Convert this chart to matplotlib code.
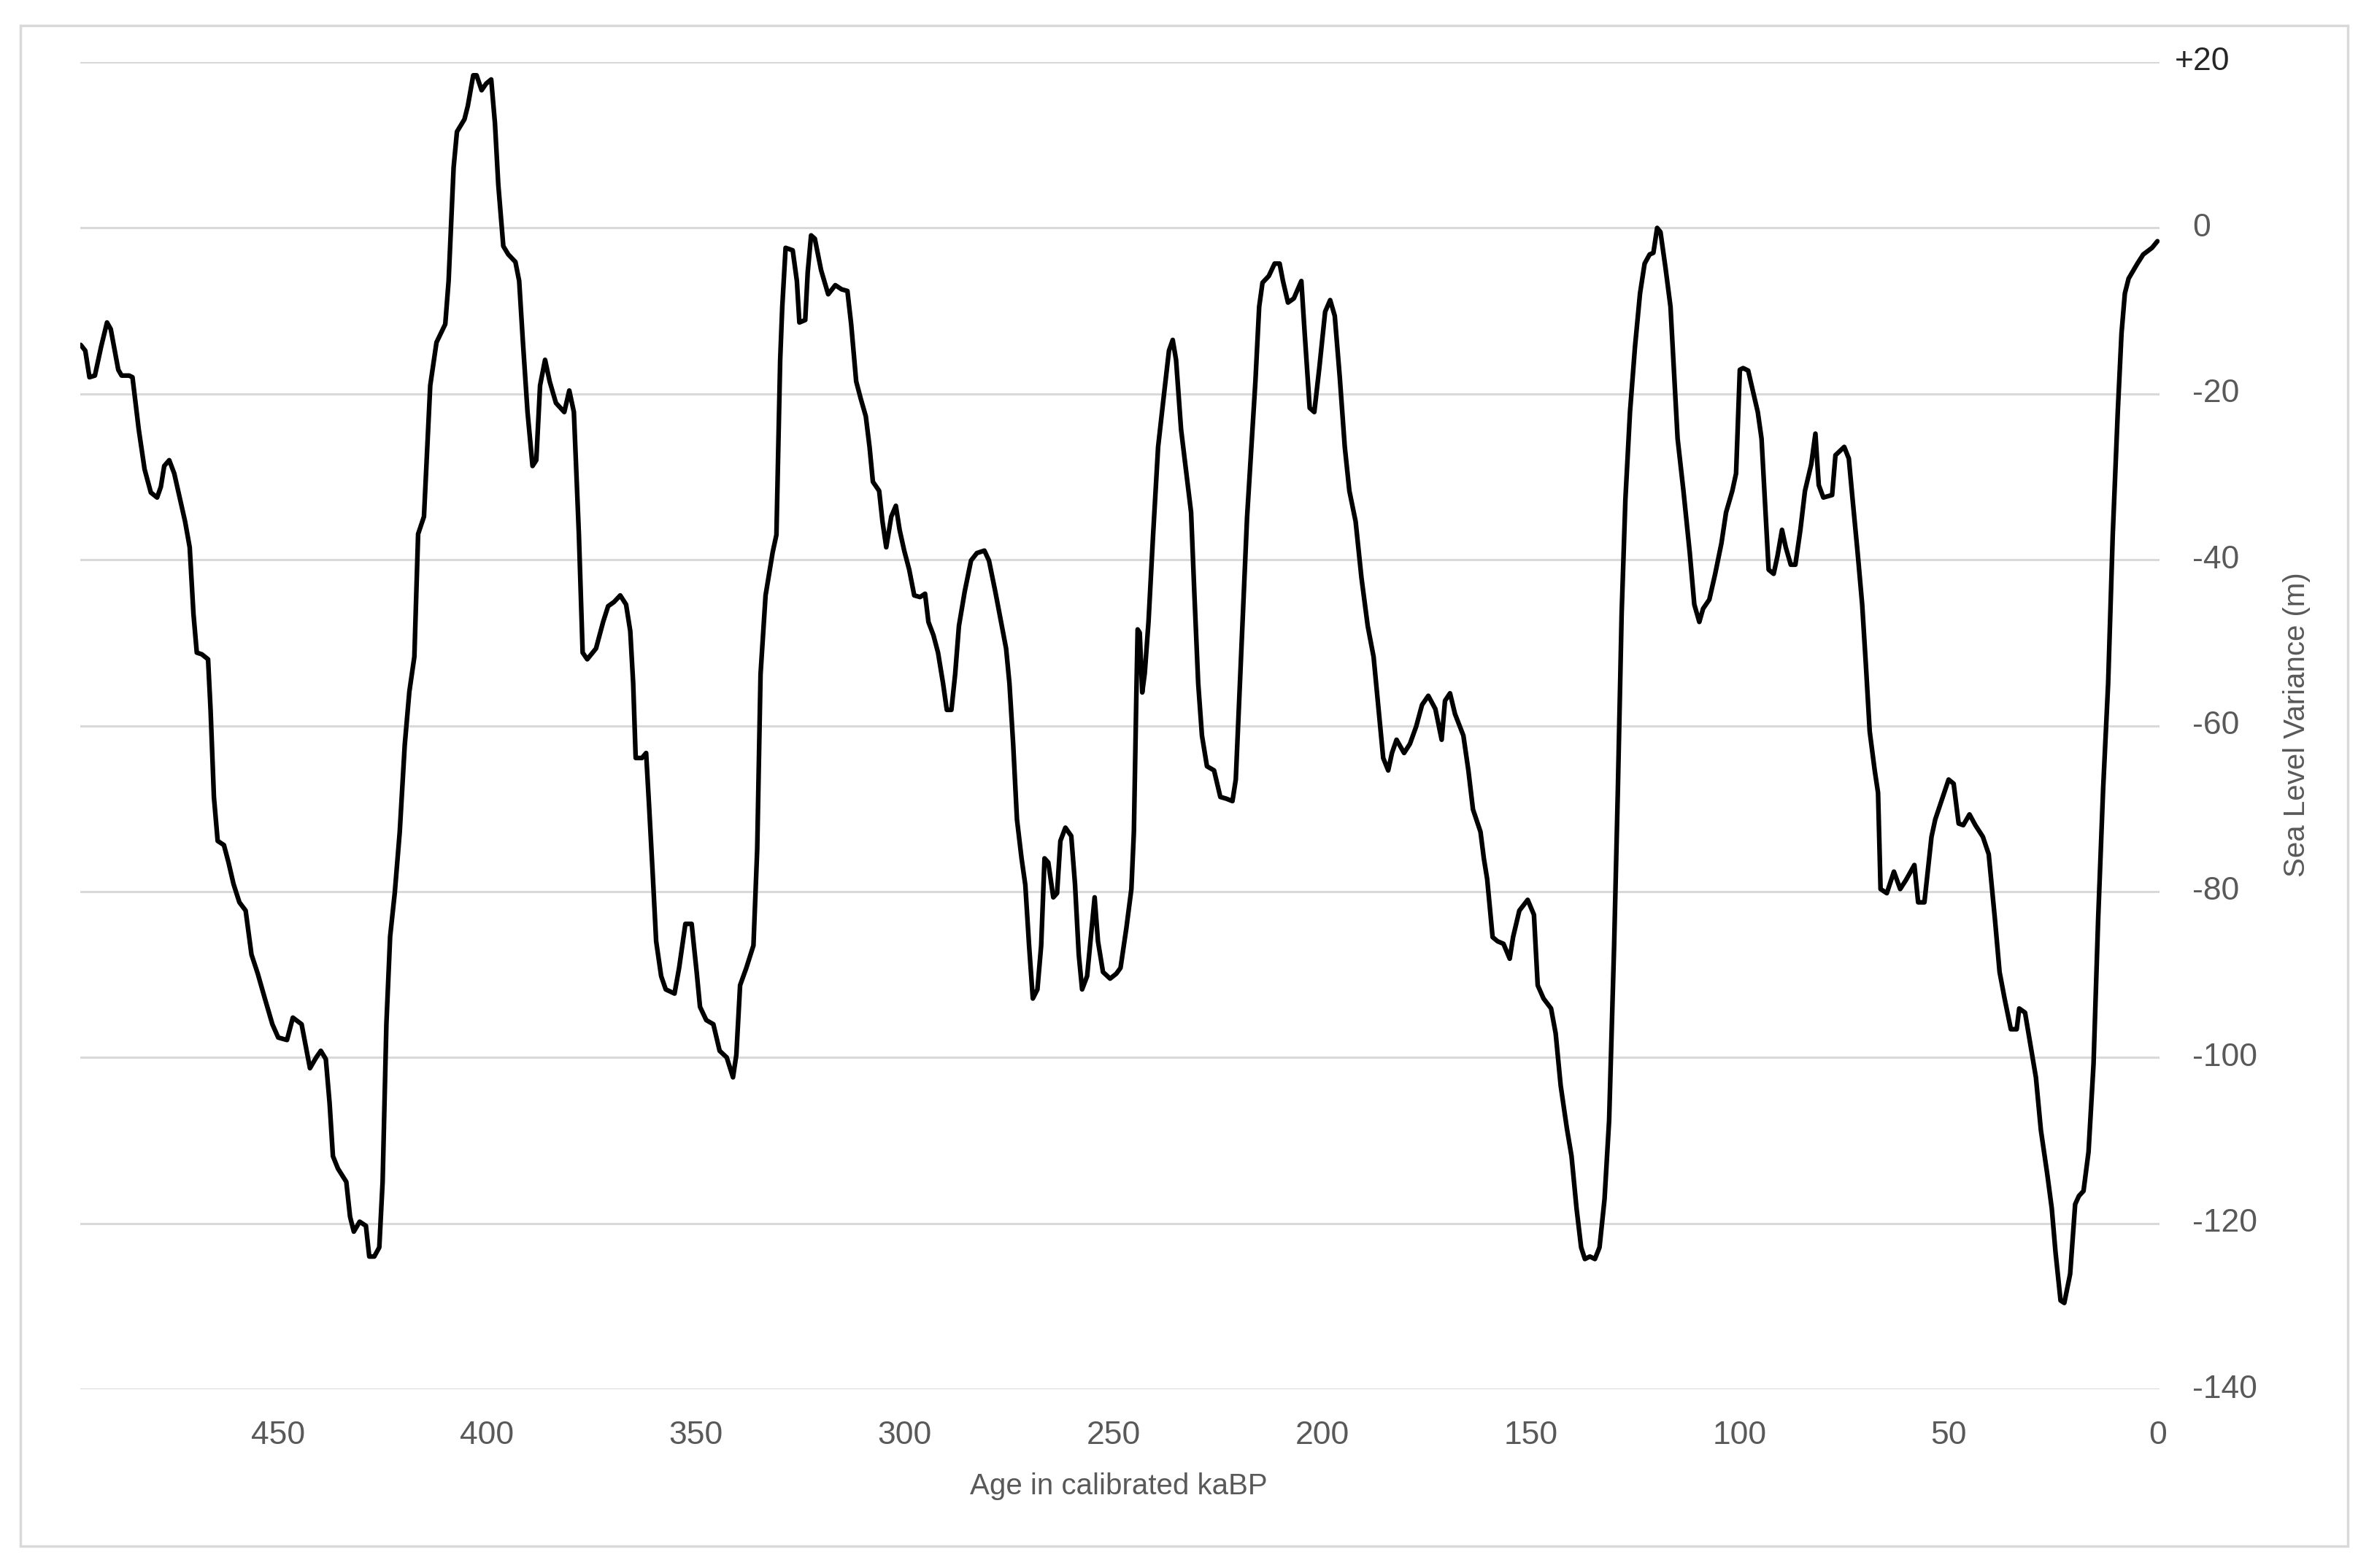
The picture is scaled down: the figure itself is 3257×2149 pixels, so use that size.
import matplotlib
matplotlib.use("Agg")
import matplotlib.pyplot as plt
from matplotlib.patches import Rectangle

# ---- data ----
age_ka = [
    497.3, 496.2, 495.2, 493.9, 492.4, 491.0, 490.1, 488.3, 487.5, 485.7, 484.9, 483.4, 482.0, 480.5, 479.0,
    478.1, 477.3, 476.1, 474.9, 473.5, 472.3, 471.2, 470.3, 469.5, 468.3, 466.8, 466.2, 465.4, 464.5, 463.0,
    461.9, 460.7, 459.3, 457.8, 456.4, 454.9, 453.2, 451.4, 450.0, 447.9, 446.5, 444.4, 442.4, 440.9, 439.8,
    438.6, 437.7, 436.9, 435.7, 433.7, 432.8, 431.9, 430.5, 429.0, 428.2, 427.0, 425.8, 425.0, 424.1, 423.2,
    422.1, 420.9, 419.7, 418.6, 417.4, 416.5, 415.1, 413.6, 412.1, 410.0, 409.2, 408.0, 407.2, 405.4, 404.6,
    403.3, 402.5, 401.3, 400.2, 399.0, 398.1, 397.3, 396.1, 394.9, 393.2, 392.3, 391.4, 390.3, 389.1, 388.2,
    387.3, 386.1, 385.0, 383.5, 381.5, 380.3, 379.2, 378.0, 377.1, 376.0, 373.9, 372.2, 371.0, 369.6, 368.1,
    366.7, 365.7, 365.0, 364.4, 362.9, 361.9, 361.2, 360.3, 359.5, 358.3, 357.2, 355.1, 354.0, 352.5, 351.0,
    349.8, 349.0, 347.5, 345.8, 344.3, 342.6, 341.1, 340.3, 339.4, 337.9, 336.2, 335.3, 334.5, 333.3, 331.6,
    330.7, 329.8, 329.3, 328.5, 326.8, 325.8, 325.2, 323.8, 323.2, 322.4, 321.5, 320.0, 318.3, 316.6, 315.1,
    313.7, 312.8, 311.6, 310.5, 309.3, 308.4, 307.6, 306.1, 305.3, 304.4, 303.2, 302.1, 301.2, 300.1, 298.9,
    297.7, 296.3, 295.1, 294.3, 293.1, 292.0, 290.8, 289.9, 288.8, 287.9, 287.0, 285.6, 284.1, 282.7, 280.9,
    279.8, 278.3, 276.9, 275.7, 274.9, 274.0, 273.1, 272.0, 271.1, 270.2, 269.3, 268.2, 267.3, 266.5, 265.6,
    264.4, 263.5, 262.7, 261.5, 260.1, 259.2, 258.3, 257.5, 256.3, 255.4, 254.5, 253.7, 252.5, 250.8, 249.3,
    248.3, 246.9, 245.7, 245.1, 244.5, 244.2, 243.7, 243.1, 242.5, 241.6, 240.5, 239.3, 237.9, 236.7, 235.8,
    235.0, 233.8, 232.3, 231.4, 230.6, 229.7, 228.8, 227.6, 225.9, 224.4, 223.0, 221.5, 220.7, 219.8, 218.9,
    218.0, 217.1, 216.0, 215.1, 214.3, 212.8, 211.4, 210.2, 209.4, 208.2, 206.8, 205.0, 204.2, 203.0, 201.9,
    200.7, 199.3, 198.1, 197.0, 195.8, 194.6, 193.5, 192.0, 190.6, 189.1, 187.7, 186.5, 185.4, 184.2, 183.3,
    182.2, 180.4, 179.0, 177.5, 176.1, 174.6, 172.9, 171.4, 170.6, 169.4, 168.2, 166.2, 165.0, 163.9, 162.1,
    161.3, 160.5, 159.2, 158.0, 156.6, 155.1, 154.3, 152.8, 150.8, 149.3, 148.4, 147.0, 145.2, 144.1, 142.9,
    141.4, 140.3, 139.1, 138.0, 137.1, 135.9, 134.7, 133.6, 132.4, 131.3, 130.1, 129.2, 128.3, 127.4, 126.3,
    125.1, 123.9, 122.8, 121.6, 120.7, 119.8, 119.0, 117.8, 116.6, 115.8, 114.9, 113.5, 112.0, 110.9, 109.7,
    108.8, 107.3, 105.9, 104.4, 103.3, 101.8, 100.9, 100.0, 99.2, 98.0, 96.9, 95.7, 94.8, 93.9, 93.1,
    91.9, 91.0, 89.9, 89.0, 87.8, 86.7, 85.5, 84.4, 82.9, 81.9, 81.1, 80.0, 77.9, 77.1, 75.0,
    73.9, 73.0, 71.8, 70.7, 69.8, 68.9, 67.7, 66.9, 66.3, 64.8, 63.1, 61.6, 60.2, 58.2, 57.3,
    55.8, 54.1, 53.2, 51.4, 50.0, 48.8, 47.6, 46.5, 45.0, 43.6, 41.8, 40.4, 38.9, 37.8, 36.6,
    35.1, 33.7, 33.1, 31.7, 30.5, 29.1, 27.9, 26.4, 25.3, 24.4, 23.2, 22.3, 20.9, 19.7, 18.8,
    17.7, 16.5, 15.3, 14.2, 13.0, 11.8, 10.7, 9.5, 8.6, 7.8, 6.9, 4.8, 3.4, 1.3, 0.0,
]
sea_level_m = [
    -14.1, -14.8, -18.0, -17.8, -14.3, -11.4, -12.2, -17.1, -17.8, -17.8, -18.0, -24.3, -29.1, -31.9, -32.5,
    -31.2, -28.7, -28.0, -29.6, -32.7, -35.4, -38.5, -46.5, -51.2, -51.4, -52.0, -58.1, -68.6, -73.9, -74.4,
    -76.5, -79.1, -81.3, -82.3, -87.6, -89.9, -92.9, -96.0, -97.6, -97.9, -95.2, -96.0, -101.3, -100.0, -99.2,
    -100.2, -105.5, -111.9, -113.4, -115.0, -119.2, -121.0, -119.8, -120.3, -124.0, -124.0, -122.9, -115.0, -96.0, -85.4,
    -80.2, -72.8, -62.3, -55.9, -51.7, -36.9, -34.8, -19.0, -13.8, -11.6, -6.4, 7.3, 11.6, 13.1, 14.7,
    18.4, 18.4, 16.6, 17.4, 17.9, 12.6, 5.2, -2.2, -3.2, -4.1, -6.4, -13.8, -22.2, -28.7, -28.0,
    -19.0, -15.9, -18.5, -21.1, -22.2, -19.6, -22.2, -37.0, -51.2, -52.0, -50.7, -47.5, -45.6, -45.1, -44.3,
    -45.4, -48.6, -54.9, -63.9, -63.9, -63.3, -69.6, -78.1, -86.0, -90.2, -91.8, -92.3, -89.2, -83.9, -83.9,
    -89.7, -93.9, -95.5, -96.0, -99.2, -100.0, -102.4, -99.7, -91.3, -89.2, -86.5, -74.9, -53.8, -44.3, -39.1,
    -37.0, -15.9, -9.5, -2.4, -2.7, -6.4, -11.4, -11.1, -5.3, -0.9, -1.3, -5.1, -8.0, -6.9, -7.4,
    -7.6, -11.6, -18.5, -20.6, -22.7, -26.4, -30.6, -31.7, -35.4, -38.5, -34.8, -33.5, -36.4, -38.9, -41.2,
    -44.3, -44.5, -44.1, -47.5, -49.1, -51.2, -54.9, -58.1, -58.1, -53.8, -48.0, -43.8, -40.1, -39.2, -38.9,
    -40.1, -43.8, -47.5, -50.7, -54.9, -62.3, -71.3, -76.0, -79.2, -86.5, -92.9, -91.8, -86.5, -76.0, -76.5,
    -80.7, -80.2, -73.9, -72.3, -73.3, -79.1, -87.6, -91.8, -90.2, -85.4, -80.7, -86.0, -89.7, -90.5, -89.9,
    -89.2, -84.4, -79.7, -72.8, -56.0, -48.4, -48.8, -56.0, -53.7, -47.5, -37.0, -26.4, -20.1, -14.8, -13.5,
    -15.9, -24.3, -30.6, -34.3, -44.3, -54.9, -61.2, -64.9, -65.4, -68.6, -68.8, -69.1, -66.5, -56.0, -45.4,
    -34.9, -27.5, -18.5, -9.5, -6.6, -5.8, -4.3, -4.3, -6.4, -9.0, -8.5, -6.4, -12.7, -21.7, -22.2,
    -16.9, -10.1, -8.7, -10.6, -18.0, -26.4, -31.7, -35.4, -42.2, -48.0, -51.7, -58.1, -63.9, -65.4, -63.3,
    -61.7, -63.3, -62.2, -60.1, -57.5, -56.4, -58.0, -61.7, -57.0, -56.1, -58.6, -61.2, -65.4, -70.1, -72.8,
    -76.0, -78.5, -85.5, -86.0, -86.3, -88.1, -85.5, -82.3, -81.0, -82.8, -91.3, -92.9, -94.1, -97.1, -103.4,
    -108.6, -111.9, -118.2, -122.9, -124.3, -124.0, -124.3, -122.9, -117.1, -107.6, -86.5, -67.6, -46.5, -32.7, -22.2,
    -14.3, -7.9, -4.3, -3.2, -3.0, 0.0, -0.5, -4.8, -9.5, -16.9, -25.4, -31.7, -39.1, -45.4, -47.5,
    -45.9, -44.8, -41.7, -38.0, -34.3, -31.7, -29.6, -17.1, -16.9, -17.2, -19.6, -22.2, -25.4, -33.8, -41.2,
    -41.7, -39.6, -36.4, -38.5, -40.6, -40.6, -36.4, -31.7, -28.5, -24.8, -31.0, -32.5, -32.2, -27.4, -26.4,
    -27.8, -32.7, -39.1, -45.4, -52.8, -60.7, -65.4, -68.1, -79.7, -80.2, -77.6, -79.7, -78.6, -76.8, -81.3,
    -81.3, -73.4, -71.3, -68.6, -66.5, -67.0, -71.8, -72.0, -70.7, -72.0, -73.4, -75.5, -83.4, -89.7, -92.9,
    -96.6, -96.6, -94.1, -94.6, -98.2, -102.4, -108.8, -114.0, -118.2, -123.5, -129.3, -129.6, -126.1, -117.7, -116.7,
    -116.1, -111.4, -100.8, -83.4, -67.6, -54.9, -37.0, -22.2, -12.7, -7.9, -6.1, -4.3, -3.2, -2.4, -1.6,
]
x_ticks = [450, 400, 350, 300, 250, 200, 150, 100, 50, 0]
y_ticks = [20, 0, -20, -40, -60, -80, -100, -120, -140]
y_tick_labels = ["+20", "0", "-20", "-40", "-60", "-80", "-100", "-120", "-140"]

W, H = 3257, 2149
fig = plt.figure(figsize=(W / 100, H / 100), dpi=100)
plt.rcParams['font.family'] = ['Liberation Sans', 'DejaVu Sans']

ax_l, ax_r, ax_t, ax_b = 110, 2959, 85, 1904
ax = fig.add_axes([ax_l / W, 1 - ax_b / H, (ax_r - ax_l) / W, (ax_b - ax_t) / H])

ax.plot(age_ka, sea_level_m, color='black', lw=4.6, solid_joinstyle='round',
        solid_capstyle='round', zorder=3)

ax.set_xlim(497.4, -0.5)
ax.set_ylim(-140, 20)
ax.set_yticks(y_ticks)
ax.yaxis.grid(True, color='#d9d9d9', lw=2.2)
ax.xaxis.grid(False)
ax.set_axisbelow(True)
for s in ax.spines.values():
    s.set_visible(False)

tick_color = '#595959'
ax.set_xticks(x_ticks)
ax.set_xticklabels([str(v) for v in x_ticks])
ax.tick_params(axis='x', length=0, pad=31, labelsize=32, labelcolor=tick_color)
ax.tick_params(axis='y', length=0, labelleft=False, labelright=False)

# right-side y tick labels
ytrans = ax.get_yaxis_transform()
axw = ax_r - ax_l
for v, lab in zip(y_ticks, y_tick_labels):
    if lab.startswith('+'):
        xa = 1 + (2980 - ax_r) / axw
        col = '#262626'
    else:
        xa = 1 + (3004 - ax_r) / axw
        col = tick_color
    ax.text(xa, v, lab, transform=ytrans, ha='left', va='center',
            fontsize=32, color=col)

fig.text(1533 / W, 1 - 2037 / H, 'Age in calibrated kaBP', ha='center', va='center',
         fontsize=29, color=tick_color)
fig.text(3147 / W, 1 - 993 / H, 'Sea Level Variance (m)', ha='center', va='center',
         rotation=90, fontsize=29, color=tick_color)

# outer chart border
fig.patches.append(Rectangle((28 / W, 1 - 2119 / H), (3217 - 28) / W, (2119 - 35) / H,
                             transform=fig.transFigure, fill=False,
                             edgecolor='#d9d9d9', lw=2.5))

fig.savefig('out.png', dpi=100, facecolor='white')
